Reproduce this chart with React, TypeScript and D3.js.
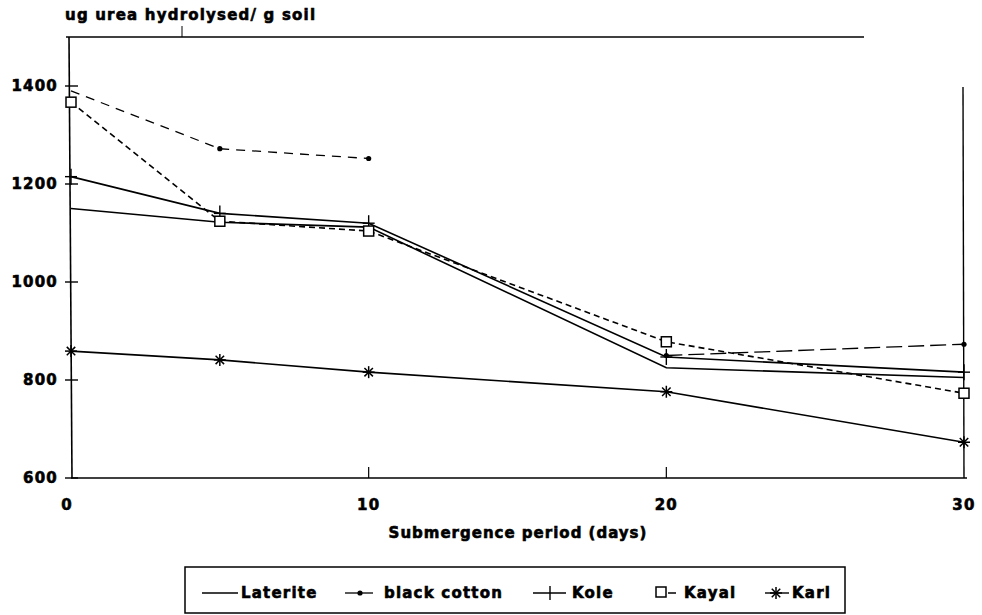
import React, { useRef, useEffect } from "react";
import * as d3 from "d3";

// Data
const DAYS = [0, 5, 10, 20, 30];
const LATERITE = [1150, 1122, 1112, 825, 805];
const BLACK_COTTON = [1390, 1272, 1252, 850, 873];
const KOLE = [1215, 1140, 1120, 847, 816];
const KAYAL = [1367, 1124, 1104, 878, 773];
const KARL = [859, 841, 816, 776, 673];

const X_TICKS = [0, 10, 20, 30];
const Y_TICKS = [600, 800, 1000, 1200, 1400];
const SERIES_NAMES = ["Laterite", "black cotton", "Kole", "Kayal", "Karl"];

const Y_TITLE = "ug urea hydrolysed/ g soil";
const X_TITLE = "Submergence period (days)";

// Geometry
const WIDTH = 982;
const HEIGHT = 615;
const FONT = "'DejaVu Sans', sans-serif";

export default function App() {
  const svgRef = useRef<SVGSVGElement | null>(null);

  useEffect(() => {
    drawChart();
  }, []);

  function drawChart() {
    const svg = d3.select(svgRef.current);
    svg.selectAll("*").remove();

    const x = d3.scaleLinear().domain([0, 30]).range([71, 964]);
    const y = d3.scaleLinear().domain([600, 1500]).range([478, 37]);

    const text = (tx: number, ty: number, str: string, anchor: string, size = 15, spacing = 1.2) =>
      svg.append("text")
        .attr("x", tx)
        .attr("y", ty)
        .attr("text-anchor", anchor)
        .attr("dominant-baseline", "central")
        .style("font-family", FONT)
        .style("font-weight", "bold")
        .style("font-size", size + "px")
        .style("letter-spacing", spacing + "px")
        .style("fill", "#000")
        .style("stroke", "#000")
        .style("stroke-width", 0.6)
        .text(str);

    // frame (partial, as printed)
    svg.append("line").attr("x1", 66).attr("x2", 864).attr("y1", y(1500)).attr("y2", y(1500))
      .attr("stroke", "#000").attr("stroke-width", 1.6);
    svg.append("line").attr("x1", 182).attr("x2", 182).attr("y1", 26).attr("y2", y(1500))
      .attr("stroke", "#000").attr("stroke-width", 1);
    svg.append("line").attr("x1", x(0) - 2).attr("x2", x(0) + 1).attr("y1", y(1500)).attr("y2", y(600))
      .attr("stroke", "#000").attr("stroke-width", 1.6);
    svg.append("line").attr("x1", x(0)).attr("x2", 967).attr("y1", y(600)).attr("y2", y(600))
      .attr("stroke", "#000").attr("stroke-width", 1.6);
    svg.append("line").attr("x1", x(30) - 1).attr("x2", x(30)).attr("y1", 87).attr("y2", y(600))
      .attr("stroke", "#000").attr("stroke-width", 1.4);

    // y ticks
    Y_TICKS.forEach((t) => {
      svg.append("line").attr("x1", x(0) - 6).attr("x2", x(0) + 7).attr("y1", y(t)).attr("y2", y(t))
        .attr("stroke", "#000").attr("stroke-width", 1.4);
      text(58, y(t), String(t), "end");
    });

    // x ticks
    X_TICKS.forEach((t) => {
      if (t !== 0 && t !== 30) {
        svg.append("line").attr("x1", x(t)).attr("x2", x(t)).attr("y1", y(600)).attr("y2", y(600) - 11)
          .attr("stroke", "#000").attr("stroke-width", 1.2);
      }
      text(x(t) - (t === 0 ? 4 : 0), 505, String(t), "middle");
    });

    text(65, 15, Y_TITLE, "start", 15, 1.2);
    text(518, 533, X_TITLE, "middle", 15, 1.0);

    const line = d3.line<[number, number]>()
      .x((d) => x(d[0]))
      .y((d) => y(d[1]));
    const pts = (vals: number[]) => DAYS.map((d, i) => [d, vals[i]] as [number, number]);

    const drawLine = (data: [number, number][], dash: string | null, w = 1.6) => {
      const p = svg.append("path")
        .attr("d", line(data))
        .attr("fill", "none")
        .attr("stroke", "#000")
        .attr("stroke-width", w);
      if (dash) p.attr("stroke-dasharray", dash);
    };

    // markers
    const dot = (cx: number, cy: number) =>
      svg.append("circle").attr("cx", cx).attr("cy", cy).attr("r", 2.6).attr("fill", "#000");
    const plus = (cx: number, cy: number) => {
      svg.append("line").attr("x1", cx).attr("x2", cx).attr("y1", cy - 8).attr("y2", cy + 8)
        .attr("stroke", "#000").attr("stroke-width", 1.4);
      svg.append("line").attr("x1", cx - 6).attr("x2", cx + 6).attr("y1", cy).attr("y2", cy)
        .attr("stroke", "#000").attr("stroke-width", 1.4);
    };
    const square = (cx: number, cy: number) =>
      svg.append("rect").attr("x", cx - 5).attr("y", cy - 5).attr("width", 10).attr("height", 10)
        .attr("fill", "#fff").attr("stroke", "#000").attr("stroke-width", 1.5);
    const star = (cx: number, cy: number) => {
      const r = 6;
      [0, 45, 90, 135].forEach((a) => {
        const dx = r * Math.cos((a * Math.PI) / 180);
        const dy = r * Math.sin((a * Math.PI) / 180);
        svg.append("line").attr("x1", cx - dx).attr("x2", cx + dx).attr("y1", cy - dy).attr("y2", cy + dy)
          .attr("stroke", "#000").attr("stroke-width", 1.5);
      });
    };

    // Laterite
    drawLine(pts(LATERITE), null);
    // Kole
    drawLine(pts(KOLE), null);
    pts(KOLE).forEach(([d, v]) => plus(x(d), y(v)));
    // black cotton (printed with a break between 10 and 20 days)
    const bc = pts(BLACK_COTTON);
    drawLine(bc.filter((p) => p[0] <= 10), "9 7", 1.3);
    drawLine(bc.filter((p) => p[0] >= 20), "16 6", 1.3);
    bc.slice(1).forEach(([d, v]) => dot(x(d), y(v)));
    // Kayal
    drawLine(pts(KAYAL), "6 4", 1.6);
    pts(KAYAL).forEach(([d, v]) => square(x(d), y(v)));
    // Karl
    drawLine(pts(KARL), null);
    pts(KARL).forEach(([d, v]) => star(x(d), y(v)));

    // legend
    svg.append("rect").attr("x", 185).attr("y", 567).attr("width", 660).attr("height", 46)
      .attr("fill", "none").attr("stroke", "#000").attr("stroke-width", 1.5);
    const ly = 593;
    svg.append("line").attr("x1", 202).attr("x2", 238).attr("y1", ly).attr("y2", ly)
      .attr("stroke", "#000").attr("stroke-width", 1.5);
    text(241, ly, SERIES_NAMES[0], "start");
    svg.append("line").attr("x1", 345).attr("x2", 373).attr("y1", ly).attr("y2", ly)
      .attr("stroke", "#000").attr("stroke-width", 1.3);
    dot(360, ly);
    text(384, ly, SERIES_NAMES[1], "start");
    svg.append("line").attr("x1", 533).attr("x2", 566).attr("y1", ly).attr("y2", ly)
      .attr("stroke", "#000").attr("stroke-width", 1.4);
    svg.append("line").attr("x1", 550).attr("x2", 550).attr("y1", ly - 7).attr("y2", ly + 7)
      .attr("stroke", "#000").attr("stroke-width", 1.4);
    text(572, ly, SERIES_NAMES[2], "start");
    square(661, ly - 1);
    svg.append("line").attr("x1", 668).attr("x2", 676).attr("y1", ly).attr("y2", ly)
      .attr("stroke", "#000").attr("stroke-width", 1.5);
    text(684, ly, SERIES_NAMES[3], "start");
    svg.append("line").attr("x1", 765).attr("x2", 789).attr("y1", ly).attr("y2", ly)
      .attr("stroke", "#000").attr("stroke-width", 1.4);
    star(776, ly);
    text(792, ly, SERIES_NAMES[4], "start");
  }

  return (
    <div style={{ position: "absolute", left: 0, top: 0, background: "#fff" }}>
      <svg ref={svgRef} width={WIDTH} height={HEIGHT} style={{ display: "block" }}></svg>
    </div>
  );
}
